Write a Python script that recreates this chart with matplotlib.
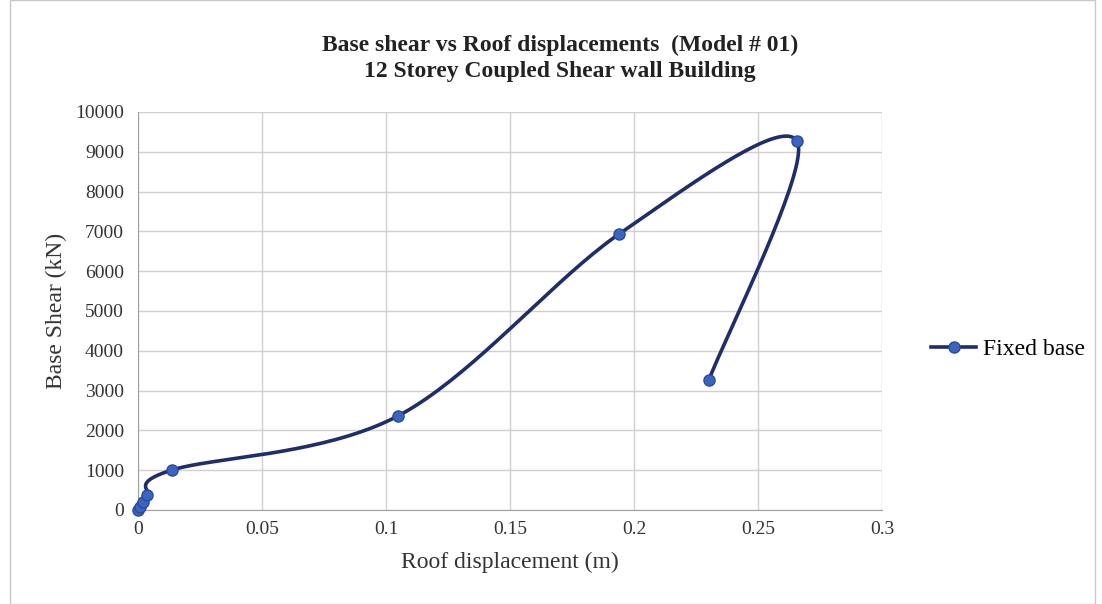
import matplotlib.pyplot as plt
import numpy as np
from matplotlib.patches import Rectangle

# Pushover data
roof_disp = [0.0, 0.001, 0.002, 0.0036, 0.0137, 0.1048, 0.194, 0.2657, 0.2302]
base_shear = [0, 80, 200, 377, 1005, 2362, 6935, 9271, 3266]
x_ticks = [0, 0.05, 0.1, 0.15, 0.2, 0.25, 0.3]
y_ticks = [0, 1000, 2000, 3000, 4000, 5000, 6000, 7000, 8000, 9000, 10000]

plt.rcParams['font.family'] = ['Liberation Serif', 'DejaVu Serif']

fig = plt.figure(figsize=(11.02, 6.04), dpi=100)
W, H = 1102, 604
ax = fig.add_axes([138 / W, 1 - 510 / H, (882 - 138) / W, (510 - 112) / H])
ax.set_xlim(0, 0.3)
ax.set_ylim(0, 10000)

# Excel-style smoothing: Bezier with control points at 1/6 of neighbour spread,
# computed in pixel-scaled space
def smooth(xs, ys, n=40):
    sx, sy = 744 / 0.3, 398 / 10000
    P = np.column_stack([np.array(xs) * sx, np.array(ys) * sy])
    out = []
    for i in range(len(P) - 1):
        p0 = P[i - 1] if i > 0 else P[i]
        p1, p2 = P[i], P[i + 1]
        p3 = P[i + 2] if i + 2 < len(P) else P[i + 1]
        c1 = p1 + (p2 - p0) / 6
        c2 = p2 - (p3 - p1) / 6
        t = np.linspace(0, 1, n)[:, None]
        seg = (1 - t) ** 3 * p1 + 3 * (1 - t) ** 2 * t * c1 + 3 * (1 - t) * t ** 2 * c2 + t ** 3 * p2
        out.append(seg)
    pts = np.vstack(out)
    return pts[:, 0] / sx, pts[:, 1] / sy

cx, cy = smooth(roof_disp, base_shear)
ax.plot(cx, cy, color='#1f2d6b', lw=2.6, zorder=3, clip_on=False)
ax.plot(roof_disp, base_shear, 'o', color='#3b64c0', mec='#2a4a9a', ms=8, zorder=4, clip_on=False)
# legend proxy
ax.plot([], [], '-o', color='#1f2d6b', mfc='#3b64c0', mec='#2a4a9a', ms=8, lw=2.6, label='Fixed base')

ax.set_xticks(x_ticks)
ax.set_xticklabels(['0', '0.05', '0.1', '0.15', '0.2', '0.25', '0.3'])
ax.set_yticks(y_ticks)
ax.grid(True, color='#d0d0d0', lw=1)
ax.set_axisbelow(True)
for s in ['top', 'right']:
    ax.spines[s].set_visible(False)
for s in ['left', 'bottom']:
    ax.spines[s].set_color('#a0a0a0')
ax.tick_params(length=0, labelsize=14, colors='#333333')
ax.tick_params(axis='y', pad=10)
ax.tick_params(axis='x', pad=8)

ax.set_xlabel('Roof displacement (m)', fontsize=17, color='#333333', labelpad=10)
ax.set_ylabel('Base Shear (kN)', fontsize=17, color='#333333', labelpad=6)

fig.text(560 / W, 1 - 45 / H, 'Base shear vs Roof displacements  (Model # 01)',
         ha='center', va='center', fontsize=17, fontweight='bold', color='#222222')
fig.text(560 / W, 1 - 72 / H, '12 Storey Coupled Shear wall Building',
         ha='center', va='center', fontsize=17, fontweight='bold', color='#222222')

fig.legend(loc='center left', bbox_to_anchor=(910 / W, 1 - 349 / H), frameon=False,
           fontsize=17, handlelength=1.9, handletextpad=0.3)

fig.patches.append(Rectangle((10 / W, 0), 1 - 17 / W, 1, transform=fig.transFigure,
                             fill=False, edgecolor='#c8c8c8', lw=1))

fig.savefig('out.png', dpi=100)
